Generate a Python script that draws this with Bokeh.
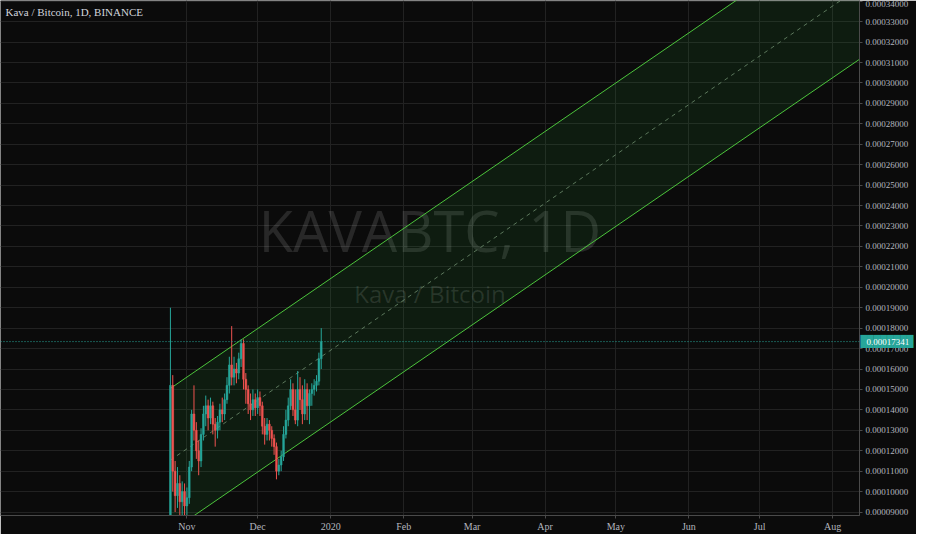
import numpy as np
import pandas as pd
from bokeh.plotting import figure
from bokeh.models import (Range1d, FixedTicker, PrintfTickFormatter, Label, Span,
                          ColumnDataSource, LinearAxis)
from bokeh.embed import file_html
from bokeh.resources import INLINE

# ---------------- data ----------------
start_date = "2019-10-25"
opens = [0.0000500, 0.0001520, 0.0001100, 0.0000980, 0.0001040, 0.0000950, 0.0001000, 0.0000930,
         0.0000970, 0.0001120, 0.0001380, 0.0001300, 0.0001200, 0.0001150, 0.0001280, 0.0001380,
         0.0001420, 0.0001360, 0.0001420, 0.0001330, 0.0001300, 0.0001340, 0.0001400, 0.0001380,
         0.0001450, 0.0001520, 0.0001620, 0.0001560, 0.0001600, 0.0001580, 0.0001650, 0.0001725,
         0.0001550, 0.0001500, 0.0001430, 0.0001400, 0.0001450, 0.0001410, 0.0001460, 0.0001420,
         0.0001320, 0.0001280, 0.0001330, 0.0001300, 0.0001260, 0.0001220, 0.0001100, 0.0001130,
         0.0001170, 0.0001280, 0.0001350, 0.0001420, 0.0001500, 0.0001400, 0.0001350, 0.0001500,
         0.0001450, 0.0001380, 0.0001500, 0.0001420, 0.0001480, 0.0001500, 0.0001520, 0.0001540,
         0.0001650]
highs = [0.0001900, 0.0001570, 0.0001150, 0.0001120, 0.0001080, 0.0001050, 0.0001040, 0.0001020,
         0.0001150, 0.0001400, 0.0001520, 0.0001340, 0.0001250, 0.0001310, 0.0001420, 0.0001470,
         0.0001450, 0.0001460, 0.0001440, 0.0001360, 0.0001370, 0.0001430, 0.0001460, 0.0001480,
         0.0001560, 0.0001660, 0.0001810, 0.0001660, 0.0001630, 0.0001680, 0.0001745, 0.0001745,
         0.0001580, 0.0001520, 0.0001480, 0.0001500, 0.0001480, 0.0001500, 0.0001490, 0.0001440,
         0.0001360, 0.0001360, 0.0001350, 0.0001320, 0.0001280, 0.0001240, 0.0001160, 0.0001200,
         0.0001320, 0.0001400, 0.0001460, 0.0001550, 0.0001530, 0.0001500, 0.0001590, 0.0001560,
         0.0001520, 0.0001550, 0.0001530, 0.0001500, 0.0001530, 0.0001550, 0.0001570, 0.0001680,
         0.0001800]
lows = [0.0000500, 0.0001000, 0.0000900, 0.0000920, 0.0000880, 0.0000880, 0.0000870, 0.0000880,
        0.0000940, 0.0001100, 0.0001250, 0.0001160, 0.0001080, 0.0001120, 0.0001250, 0.0001320,
        0.0001300, 0.0001330, 0.0001280, 0.0001220, 0.0001260, 0.0001300, 0.0001340, 0.0001350,
        0.0001430, 0.0001480, 0.0001520, 0.0001520, 0.0001530, 0.0001550, 0.0001610, 0.0001500,
        0.0001430, 0.0001380, 0.0001350, 0.0001370, 0.0001370, 0.0001380, 0.0001370, 0.0001280,
        0.0001230, 0.0001250, 0.0001250, 0.0001220, 0.0001180, 0.0001060, 0.0001080, 0.0001100,
        0.0001150, 0.0001260, 0.0001320, 0.0001400, 0.0001370, 0.0001330, 0.0001320, 0.0001400,
        0.0001330, 0.0001350, 0.0001350, 0.0001330, 0.0001420, 0.0001470, 0.0001490, 0.0001520,
        0.0001600]
closes = [0.0001520, 0.0001100, 0.0000980, 0.0001040, 0.0000950, 0.0001000, 0.0000930, 0.0000970,
          0.0001120, 0.0001380, 0.0001300, 0.0001200, 0.0001150, 0.0001280, 0.0001380, 0.0001420,
          0.0001360, 0.0001420, 0.0001330, 0.0001300, 0.0001340, 0.0001400, 0.0001380, 0.0001450,
          0.0001520, 0.0001620, 0.0001560, 0.0001600, 0.0001580, 0.0001650, 0.0001725, 0.0001550,
          0.0001500, 0.0001430, 0.0001400, 0.0001450, 0.0001410, 0.0001460, 0.0001420, 0.0001320,
          0.0001280, 0.0001330, 0.0001300, 0.0001260, 0.0001220, 0.0001100, 0.0001130, 0.0001170,
          0.0001280, 0.0001350, 0.0001420, 0.0001500, 0.0001400, 0.0001350, 0.0001500, 0.0001450,
          0.0001380, 0.0001500, 0.0001420, 0.0001480, 0.0001500, 0.0001520, 0.0001540, 0.0001650,
          0.00017341]
last_price = 0.00017341

channel_dates = ["2019-10-25", "2020-08-20"]
channel_upper = [0.0001505, 0.0003878]
channel_width = 0.0000702

month_dates = ["2019-11-01", "2019-12-01", "2020-01-01", "2020-02-01", "2020-03-01",
               "2020-04-01", "2020-05-01", "2020-06-01", "2020-07-01", "2020-08-01"]
month_labels = ["Nov", "Dec", "2020", "Feb", "Mar", "Apr", "May", "Jun", "Jul", "Aug"]
price_ticks = [round(0.00009 + 0.00001 * k, 5) for k in range(26)]

title_text = "Kava / Bitcoin, 1D, BINANCE"
wm_big = "KAVABTC, 1D"
wm_small = "Kava / Bitcoin"

# ---------------- derived ----------------
epoch = pd.Timestamp("2020-01-01")
def to_days(ds):
    return np.array([(pd.Timestamp(d) - epoch).days for d in ds], dtype=float)

dates = pd.date_range(start_date, periods=len(opens), freq="D")
days = np.array([(d - epoch).days for d in dates], dtype=float)
o = np.array(opens); h = np.array(highs); l = np.array(lows); c = np.array(closes)
up = c >= o
UP, DOWN = "#26a69a", "#ef5350"
colors = [UP if u else DOWN for u in up]
src = ColumnDataSource(dict(x=days, o=o, h=h, l=l, c=c,
                            top=np.maximum(o, c), bottom=np.minimum(o, c), color=colors))

BG = "#0b0b0b"
GRID = "#222222"
AXIS = "#4a4a4a"
LBL = "#b2b5be"
FONT = "Liberation Sans Narrow"

x0, x1 = -140.1, 224.4
y0, y1 = 0.0000883, 0.00034036

p = figure(width=916, height=534, output_backend="svg", toolbar_location=None,
           x_range=Range1d(x0, x1), y_range=Range1d(y0, y1), y_axis_location="right",
           background_fill_color=BG, border_fill_color=BG, outline_line_color=None,
           min_border_left=0, min_border_top=0, min_border_right=0, min_border_bottom=0)

# axes
p.xaxis.ticker = FixedTicker(ticks=list(to_days(month_dates)))
p.xaxis.major_label_overrides = {float(d): lab for d, lab in zip(to_days(month_dates), month_labels)}
p.yaxis.ticker = FixedTicker(ticks=price_ticks)
p.yaxis.formatter = PrintfTickFormatter(format="%.8f")
for ax in (p.xaxis, p.yaxis):
    ax.axis_line_color = AXIS
    ax.major_tick_line_color = AXIS
    ax.minor_tick_line_color = None
    ax.major_tick_in = 0
    ax.major_tick_out = 3
    ax.major_label_text_color = LBL
    ax.major_label_text_font = FONT
    ax.major_label_text_font_size = "10px"
p.yaxis.major_label_text_font_size = "9px"
p.yaxis.major_label_standoff = 3
p.xaxis.major_label_standoff = 2
p.xgrid.grid_line_color = GRID
p.ygrid.grid_line_color = GRID

# last-price tag on the price scale: a teal block row and the white price on top of it,
# both as extra right axes that tick only at the last price, pulled back over the scale
tag_box = LinearAxis(ticker=FixedTicker(ticks=[last_price]),
                     major_label_overrides={last_price: "\u2588" * 8},
                     axis_line_color=None, major_tick_line_color=None,
                     minor_tick_line_color=None, major_tick_in=0, major_tick_out=0,
                     major_label_standoff=-51, major_label_text_color=UP,
                     major_label_text_font="DejaVu Sans Mono", major_label_text_font_size="11px")
tag_text = LinearAxis(ticker=FixedTicker(ticks=[last_price]),
                      formatter=PrintfTickFormatter(format="%.8f"),
                      axis_line_color=None, major_tick_line_color=None,
                      minor_tick_line_color=None, major_tick_in=0, major_tick_out=0,
                      major_label_standoff=-50, major_label_text_color="#ffffff",
                      major_label_text_font=FONT, major_label_text_font_size="9px")
p.add_layout(tag_box, "right")
p.add_layout(tag_text, "right")

# watermark
xm = (x0 + x1) / 2
p.add_layout(Label(x=xm, y=0.0002282, text=wm_big, text_align="center", text_baseline="middle",
                   text_font="Open Sans", text_font_size="56px", text_color="#ffffff",
                   text_alpha=0.12, level="underlay"))
p.add_layout(Label(x=xm, y=0.0001968, text=wm_small, text_align="center", text_baseline="middle",
                   text_font="Open Sans", text_font_size="24px", text_color="#ffffff",
                   text_alpha=0.12, level="underlay"))

# channel
cd = to_days(channel_dates)
cu = np.array(channel_upper)
cl = cu - channel_width
cm = cu - channel_width / 2
p.patch(x=[cd[0], cd[1], cd[1], cd[0]], y=[cu[0], cu[1], cl[1], cl[0]],
        fill_color="#2ecc40", fill_alpha=0.09, line_color=None)
p.line(x=cd, y=cu, line_color="#4cc43c", line_width=1)
p.line(x=cd, y=cl, line_color="#4cc43c", line_width=1)
p.line(x=cd, y=cm, line_color="#6f8f6f", line_width=1, line_dash="4 4", line_alpha=0.8)

# candles
p.segment(x0="x", y0="l", x1="x", y1="h", line_color="color", line_width=1, source=src)
p.vbar(x="x", width=0.75, top="top", bottom="bottom", fill_color="color", line_color="color",
       line_width=0.5, source=src)

# last price line
p.add_layout(Span(location=last_price, dimension="width", line_color=UP, line_dash="1 2",
                  line_width=1))

# title
p.add_layout(Label(x=x0, y=y1, x_offset=5, y_offset=-5, text=title_text, text_baseline="top",
                   text_font=FONT, text_font_size="11px", text_color="#d1d4dc"))

open("out.html", "w").write(file_html(p, INLINE))
